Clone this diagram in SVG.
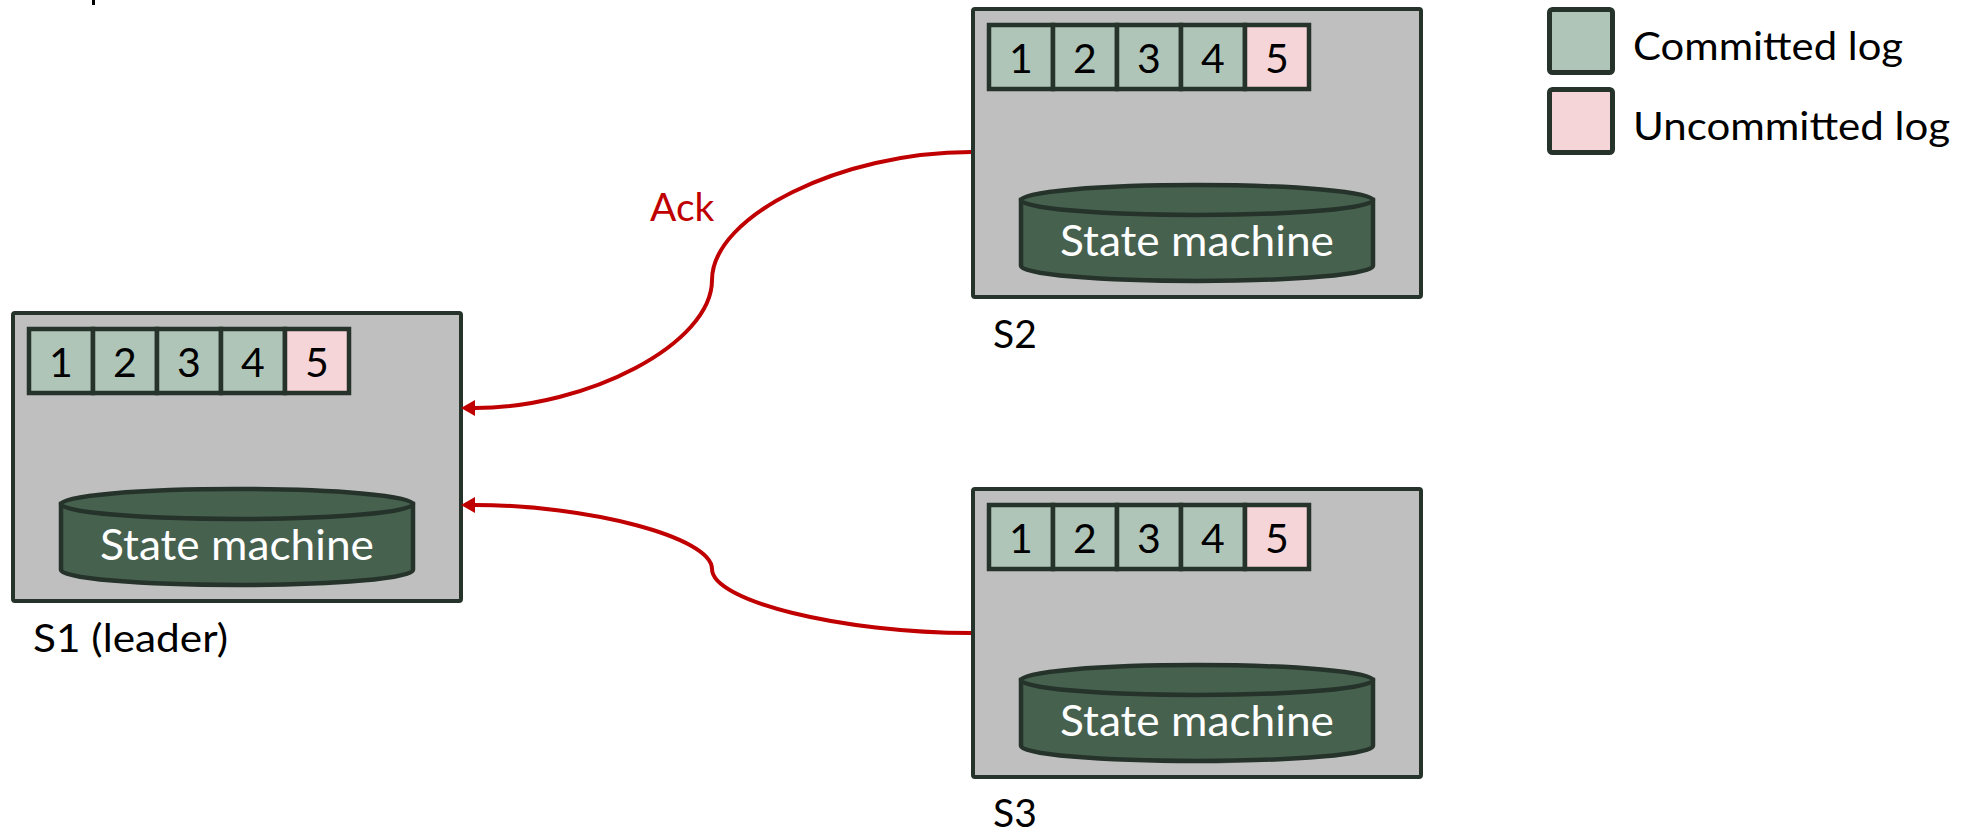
<svg xmlns="http://www.w3.org/2000/svg" width="1965" height="833" viewBox="0 0 1965 833">
  <defs>
    <style>
      .box { fill: #BFBFBF; stroke: #25332A; stroke-width: 4; }
      .cell { stroke: #25332A; stroke-width: 4.5; }
      .ok { fill: #AFC5B8; }
      .pend { fill: #F6D5D8; }
      .cyl { fill: #47614F; stroke: #25332A; stroke-width: 4.5; }
      .num { font-family: Lato, "Liberation Sans", sans-serif; font-size: 41px; fill: #000; text-anchor: middle; }
      .sm { font-family: Lato, "Liberation Sans", sans-serif; font-size: 42px; fill: #FFF; text-anchor: middle; }
      .lbl { font-family: Lato, "Liberation Sans", sans-serif; font-size: 39px; fill: #000; }
      .ack { font-family: Lato, "Liberation Sans", sans-serif; font-size: 39px; fill: #C00000; }
      .conn { fill: none; stroke: #C00000; stroke-width: 4; marker-end: url(#arrow); }
    </style>
    <marker id="arrow" markerUnits="userSpaceOnUse" viewBox="0 0 15 16" markerWidth="15" markerHeight="16" refX="0" refY="8" orient="auto">
      <path d="M0,0 L14,8 L0,16 z" fill="#C00000"/>
    </marker>
    <!-- one server: frame, five log cells, state machine cylinder -->
    <g id="server">
      <rect class="box" x="2" y="2" width="448" height="288" rx="2"/>
      <rect class="cell ok" x="18" y="18" width="64" height="64"/>
      <rect class="cell ok" x="82" y="18" width="64" height="64"/>
      <rect class="cell ok" x="146" y="18" width="64" height="64"/>
      <rect class="cell ok" x="210" y="18" width="64" height="64"/>
      <rect class="cell pend" x="274" y="18" width="64" height="64"/>
      <text class="num" x="50" y="66">1</text>
      <text class="num" x="114" y="66">2</text>
      <text class="num" x="178" y="66">3</text>
      <text class="num" x="242" y="66">4</text>
      <text class="num" x="306" y="66">5</text>
      <path class="cyl" d="M50,193 L50,259 A176,15 0 0 0 402,259 L402,193 Z"/>
      <ellipse class="cyl" cx="226" cy="193" rx="176" ry="15"/>
      <text class="sm" x="226" y="249" textLength="274" lengthAdjust="spacingAndGlyphs">State machine</text>
    </g>
  </defs>

  <rect x="92" y="0" width="3" height="5" fill="#000"/>

  <g id="s1" transform="translate(11,311)">
    <use href="#server"/>
    <text class="lbl" x="22" y="341" textLength="195" lengthAdjust="spacingAndGlyphs">S1 (leader)</text>
  </g>

  <g id="s2" transform="translate(971,7)">
    <use href="#server"/>
    <text class="lbl" x="22" y="341">S2</text>
  </g>

  <g id="s3" transform="translate(971,487)">
    <use href="#server"/>
    <text class="lbl" x="22" y="340">S3</text>
  </g>

  <g id="legend">
    <rect class="cell ok" x="1549.5" y="9.5" width="63" height="63" rx="3" style="stroke-width:5"/>
    <rect class="cell pend" x="1549.5" y="89.5" width="63" height="63" rx="3" style="stroke-width:5"/>
    <text class="lbl" x="1633" y="60" textLength="270" lengthAdjust="spacingAndGlyphs">Committed log</text>
    <text class="lbl" x="1633" y="140" textLength="317" lengthAdjust="spacingAndGlyphs">Uncommitted log</text>
  </g>

  <g id="connectors">
    <path class="conn" d="M971,152 C841,152 712,216 712,280 C712,344 587,408 475,408"/>
    <path class="conn" d="M971,633 C841,633 712,601 712,569 C712,537 587,505 475,505"/>
    <text class="ack" x="650" y="221">Ack</text>
  </g>
</svg>
